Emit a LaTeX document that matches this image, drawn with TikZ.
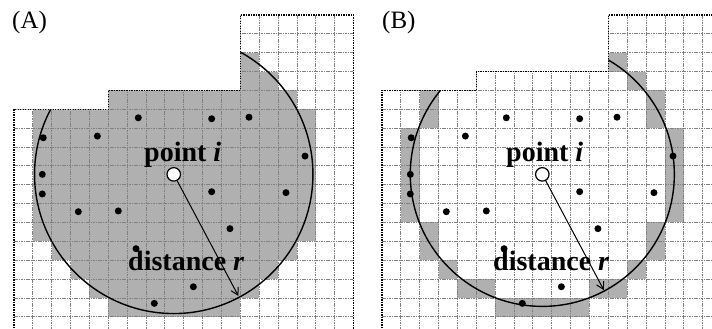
\documentclass[tikz,border=0pt]{standalone}
\usepackage{fontspec}
\setmainfont{Liberation Serif}
\usetikzlibrary{arrows.meta,calc}
\tikzset{
  cellfill/.style={fill=black!31},
  gridline/.style={black!50, line width=0.8pt, dash pattern=on 1.6pt off 0.8pt},
  outline/.style={black, line width=1.6pt, dash pattern=on 1.3pt off 1.2pt},
  ring/.style={black, line width=1.4pt},
  blackdot/.style={circle, fill=black, inner sep=0pt, minimum size=7pt},
  centerpt/.style={circle, draw=black, fill=white, line width=1.2pt, inner sep=0pt, minimum size=13.5pt},
  radius arrow/.style={-{Straight Barb[length=7pt,width=8pt]}, line width=1pt},
  panel label/.style={font=\fontsize{25}{25}\selectfont, inner sep=0pt, anchor=base west},
  big label/.style={font=\fontsize{28}{28}\selectfont\bfseries, inner sep=0pt, anchor=base west},
}
\def\dotlist{(6.59,0.45),(10.48,0.50),(12.46,0.42),(1.55,1.51),(4.42,1.42),(15.43,2.48),(1.50,3.45),(1.50,4.49),(10.48,4.37),(14.42,4.42),(3.41,5.43),(5.53,5.39),(11.45,6.33),(6.47,7.39),(9.51,9.41),(7.44,10.29)}
\begin{document}
\begin{tikzpicture}[x=1pt,y=-1pt]
\useasboundingbox (0,0) rectangle (712,329);
\clip (0,0) rectangle (712,329);
% ---------------- Panel A ----------------
\begin{scope}[shift={(14,109.3)}, x=18.86pt, y=-18.86pt]
  \begin{scope}
    \clip (0,12) -- (0,0) -- (5,0) -- (5,-1) -- (12,-1) -- (12,-5) -- (18,-5) -- (18,12) -- cycle;
    \foreach \c in {0,...,17}{\foreach \r in {-5,...,11}{
      \pgfmathtruncatemacro{\dd}{(\c-8)*(\c-8)+(\r-3)*(\r-3)}
      \ifnum\dd<59 \fill[cellfill] (\c,\r) rectangle ++(1,1);\fi}}
    \foreach \c in {1,...,17} \draw[gridline] (\c,-5) -- (\c,12);
    \foreach \r in {-4,...,11} \draw[gridline] (0,\r) -- (18,\r);
    \draw[ring] (8.47,3.45) circle [radius=7.38];
  \end{scope}
  \draw[outline] (0,12) -- (0,0) -- (5,0) -- (5,-1) -- (12,-1) -- (12,-5) -- (18,-5) -- (18,12);
  \foreach \p [count=\k] in \dotlist \node[blackdot] (dA\k) at \p {};
  \node[centerpt] (ciA) at (8.47,3.45) {};
  \coordinate (tipA) at ($(8.47,3.45)+(62:7.3)$);
  \draw[radius arrow] (ciA) -- (tipA);
\end{scope}
% ---------------- Panel B ----------------
\begin{scope}[shift={(382,109.3)}, x=18.86pt, y=-18.86pt]
  \begin{scope}
    \clip (0,12) -- (0,-1) -- (5,-1) -- (5,-2) -- (12,-2) -- (12,-5) -- (18,-5) -- (18,12) -- cycle;
    \foreach \c in {0,...,17}{\foreach \r in {-5,...,11}{
      \pgfmathtruncatemacro{\dd}{(\c-8)*(\c-8)+(\r-3)*(\r-3)}
      \ifnum\dd>41 \ifnum\dd<58 \fill[cellfill] (\c,\r) rectangle ++(1,1);\fi\fi}}
    \foreach \c in {1,...,17} \draw[gridline] (\c,-5) -- (\c,12);
    \foreach \r in {-4,...,11} \draw[gridline] (0,\r) -- (18,\r);
    \draw[ring] (8.5,3.45) circle [radius=7.0];
  \end{scope}
  \draw[outline] (0,12) -- (0,-1) -- (5,-1) -- (5,-2) -- (12,-2) -- (12,-5) -- (18,-5) -- (18,12);
  \foreach \p [count=\k] in \dotlist \node[blackdot] (dB\k) at \p {};
  \node[centerpt] (ciB) at (8.5,3.45) {};
  \coordinate (tipB) at ($(8.5,3.45)+(62:6.95)$);
  \draw[radius arrow] (ciB) -- (tipB);
\end{scope}
% ---------------- Labels ----------------
\node[panel label] (labA) at (12,28.5) {(A)};
\node[panel label] (labB) at (382,29) {(B)};
\node[big label] (ptA) at (144,161) {point \textit{i}};
\node[big label] (dsA) at (128,270) {distance \textit{r}};
\node[big label] (ptB) at (506,161.5) {point \textit{i}};
\node[big label] (dsB) at (493,270) {distance \textit{r}};
\end{tikzpicture}
\end{document}
